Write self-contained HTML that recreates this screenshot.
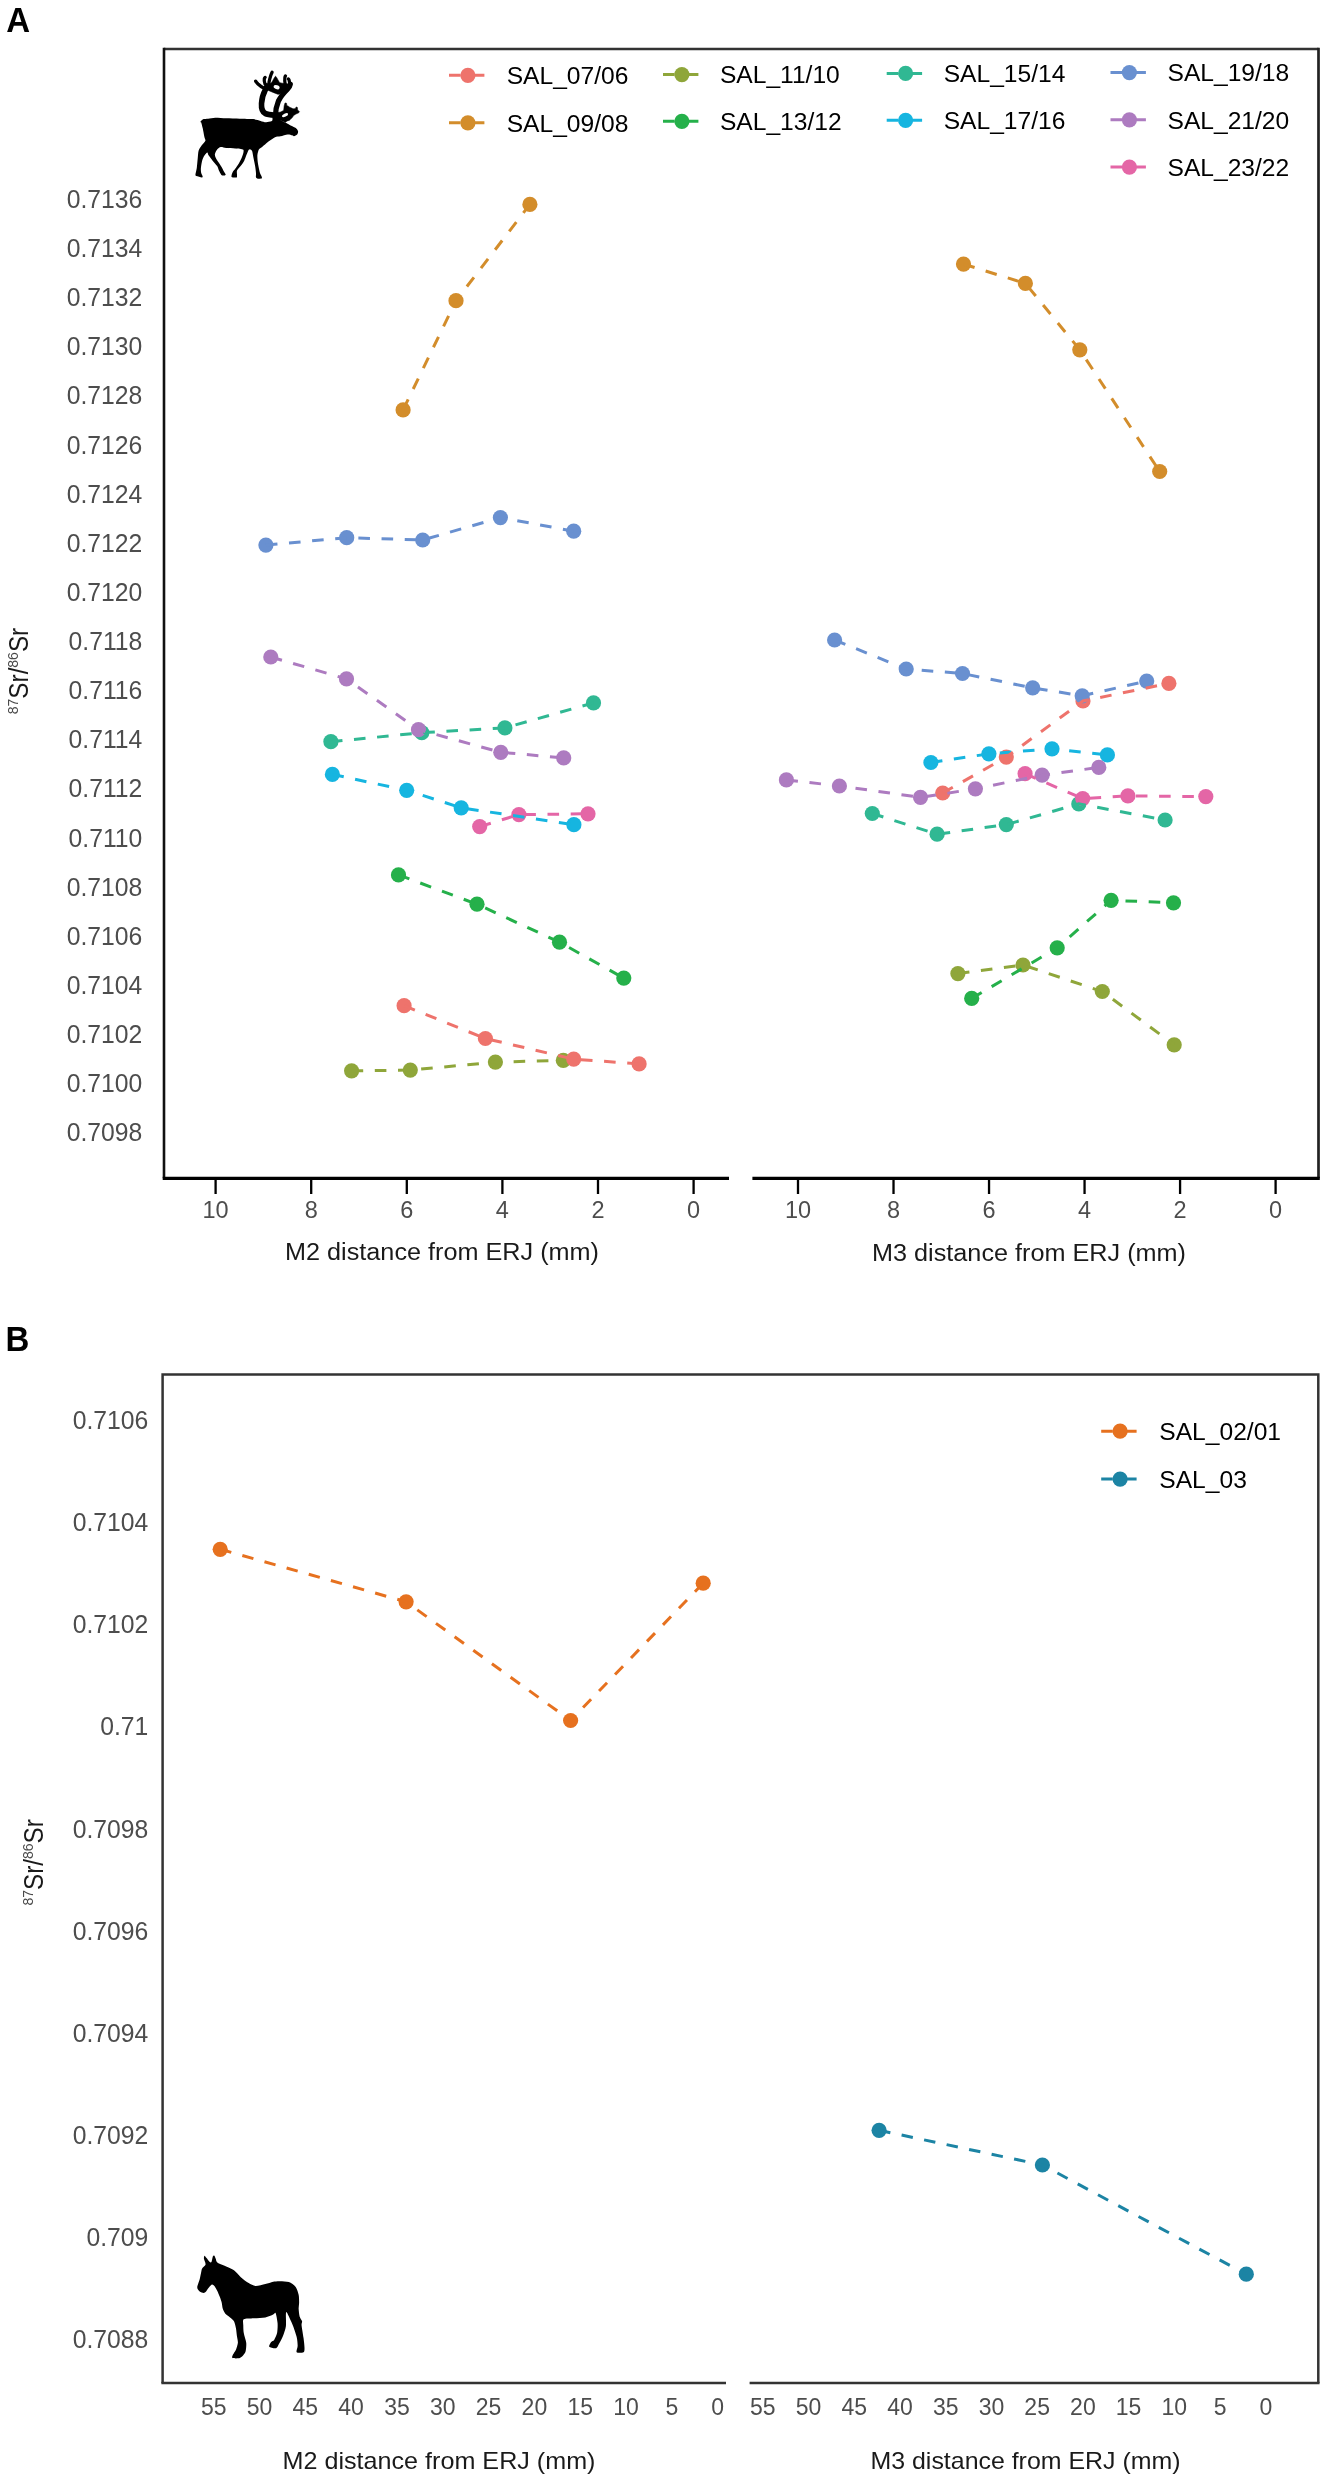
<!DOCTYPE html><html><head><meta charset="utf-8"><style>html,body{margin:0;padding:0;background:#fff;}svg{display:block;will-change:transform}</style></head><body>
<svg width="1327" height="2480" viewBox="0 0 1327 2480" font-family='"Liberation Sans", sans-serif'>
<rect width="1327" height="2480" fill="#fff"/>
<text transform="translate(6.3 31.8) scale(0.93 1)" font-size="35.5" font-weight="bold" fill="#000">A</text>
<text transform="translate(5.6 1350.9) scale(0.93 1)" font-size="35.5" font-weight="bold" fill="#000">B</text>
<path d="M164 49H1318.5" fill="none" stroke="#333" stroke-width="2.6"/>
<path d="M1318.5 47.7V1178.3" fill="none" stroke="#222" stroke-width="2.7"/>
<path d="M164 47.7V1178.3" fill="none" stroke="#111" stroke-width="2.6"/>
<path d="M162.7 1178.3H729 M752.4 1178.3H1319.8" fill="none" stroke="#000" stroke-width="3.2"/>
<path d="M693.6 1178.3V1194 M1275.6 1178.3V1194 M598 1178.3V1194 M1180.08 1178.3V1194 M502.4 1178.3V1194 M1084.56 1178.3V1194 M406.8 1178.3V1194 M989.04 1178.3V1194 M311.2 1178.3V1194 M893.52 1178.3V1194 M215.6 1178.3V1194 M798 1178.3V1194" stroke="#000" stroke-width="2.3"/>
<text x="693.6" y="1217.5" font-size="23.5" fill="#4d4d4d" text-anchor="middle">0</text>
<text x="1275.6" y="1217.5" font-size="23.5" fill="#4d4d4d" text-anchor="middle">0</text>
<text x="598" y="1217.5" font-size="23.5" fill="#4d4d4d" text-anchor="middle">2</text>
<text x="1180.08" y="1217.5" font-size="23.5" fill="#4d4d4d" text-anchor="middle">2</text>
<text x="502.4" y="1217.5" font-size="23.5" fill="#4d4d4d" text-anchor="middle">4</text>
<text x="1084.56" y="1217.5" font-size="23.5" fill="#4d4d4d" text-anchor="middle">4</text>
<text x="406.8" y="1217.5" font-size="23.5" fill="#4d4d4d" text-anchor="middle">6</text>
<text x="989.04" y="1217.5" font-size="23.5" fill="#4d4d4d" text-anchor="middle">6</text>
<text x="311.2" y="1217.5" font-size="23.5" fill="#4d4d4d" text-anchor="middle">8</text>
<text x="893.52" y="1217.5" font-size="23.5" fill="#4d4d4d" text-anchor="middle">8</text>
<text x="215.6" y="1217.5" font-size="23.5" fill="#4d4d4d" text-anchor="middle">10</text>
<text x="798" y="1217.5" font-size="23.5" fill="#4d4d4d" text-anchor="middle">10</text>
<text transform="translate(142.3 208) scale(0.97 1)" font-size="25.5" fill="#4d4d4d" text-anchor="end">0.7136</text>
<text transform="translate(142.3 257.12) scale(0.97 1)" font-size="25.5" fill="#4d4d4d" text-anchor="end">0.7134</text>
<text transform="translate(142.3 306.24) scale(0.97 1)" font-size="25.5" fill="#4d4d4d" text-anchor="end">0.7132</text>
<text transform="translate(142.3 355.36) scale(0.97 1)" font-size="25.5" fill="#4d4d4d" text-anchor="end">0.7130</text>
<text transform="translate(142.3 404.48) scale(0.97 1)" font-size="25.5" fill="#4d4d4d" text-anchor="end">0.7128</text>
<text transform="translate(142.3 453.6) scale(0.97 1)" font-size="25.5" fill="#4d4d4d" text-anchor="end">0.7126</text>
<text transform="translate(142.3 502.72) scale(0.97 1)" font-size="25.5" fill="#4d4d4d" text-anchor="end">0.7124</text>
<text transform="translate(142.3 551.84) scale(0.97 1)" font-size="25.5" fill="#4d4d4d" text-anchor="end">0.7122</text>
<text transform="translate(142.3 600.96) scale(0.97 1)" font-size="25.5" fill="#4d4d4d" text-anchor="end">0.7120</text>
<text transform="translate(142.3 650.08) scale(0.97 1)" font-size="25.5" fill="#4d4d4d" text-anchor="end">0.7118</text>
<text transform="translate(142.3 699.2) scale(0.97 1)" font-size="25.5" fill="#4d4d4d" text-anchor="end">0.7116</text>
<text transform="translate(142.3 748.32) scale(0.97 1)" font-size="25.5" fill="#4d4d4d" text-anchor="end">0.7114</text>
<text transform="translate(142.3 797.44) scale(0.97 1)" font-size="25.5" fill="#4d4d4d" text-anchor="end">0.7112</text>
<text transform="translate(142.3 846.56) scale(0.97 1)" font-size="25.5" fill="#4d4d4d" text-anchor="end">0.7110</text>
<text transform="translate(142.3 895.68) scale(0.97 1)" font-size="25.5" fill="#4d4d4d" text-anchor="end">0.7108</text>
<text transform="translate(142.3 944.8) scale(0.97 1)" font-size="25.5" fill="#4d4d4d" text-anchor="end">0.7106</text>
<text transform="translate(142.3 993.92) scale(0.97 1)" font-size="25.5" fill="#4d4d4d" text-anchor="end">0.7104</text>
<text transform="translate(142.3 1043.04) scale(0.97 1)" font-size="25.5" fill="#4d4d4d" text-anchor="end">0.7102</text>
<text transform="translate(142.3 1092.16) scale(0.97 1)" font-size="25.5" fill="#4d4d4d" text-anchor="end">0.7100</text>
<text transform="translate(142.3 1141.28) scale(0.97 1)" font-size="25.5" fill="#4d4d4d" text-anchor="end">0.7098</text>
<text x="285" y="1260.2" font-size="23" fill="#1a1a1a" textLength="314" lengthAdjust="spacingAndGlyphs">M2 distance from ERJ (mm)</text>
<text x="872" y="1261" font-size="23" fill="#1a1a1a" textLength="314" lengthAdjust="spacingAndGlyphs">M3 distance from ERJ (mm)</text>
<path d="M162.6 2383V1374.4H1318.3V2383" fill="none" stroke="#333" stroke-width="2.5"/>
<path d="M161.35 2383H726 M749.6 2383H1319.55" fill="none" stroke="#333" stroke-width="2.5"/>
<text x="717.7" y="2414.9" font-size="23" fill="#4d4d4d" text-anchor="middle">0</text>
<text x="1265.8" y="2414.9" font-size="23" fill="#4d4d4d" text-anchor="middle">0</text>
<text x="671.88" y="2414.9" font-size="23" fill="#4d4d4d" text-anchor="middle">5</text>
<text x="1220.08" y="2414.9" font-size="23" fill="#4d4d4d" text-anchor="middle">5</text>
<text x="626.06" y="2414.9" font-size="23" fill="#4d4d4d" text-anchor="middle">10</text>
<text x="1174.35" y="2414.9" font-size="23" fill="#4d4d4d" text-anchor="middle">10</text>
<text x="580.24" y="2414.9" font-size="23" fill="#4d4d4d" text-anchor="middle">15</text>
<text x="1128.62" y="2414.9" font-size="23" fill="#4d4d4d" text-anchor="middle">15</text>
<text x="534.42" y="2414.9" font-size="23" fill="#4d4d4d" text-anchor="middle">20</text>
<text x="1082.9" y="2414.9" font-size="23" fill="#4d4d4d" text-anchor="middle">20</text>
<text x="488.6" y="2414.9" font-size="23" fill="#4d4d4d" text-anchor="middle">25</text>
<text x="1037.17" y="2414.9" font-size="23" fill="#4d4d4d" text-anchor="middle">25</text>
<text x="442.78" y="2414.9" font-size="23" fill="#4d4d4d" text-anchor="middle">30</text>
<text x="991.45" y="2414.9" font-size="23" fill="#4d4d4d" text-anchor="middle">30</text>
<text x="396.96" y="2414.9" font-size="23" fill="#4d4d4d" text-anchor="middle">35</text>
<text x="945.72" y="2414.9" font-size="23" fill="#4d4d4d" text-anchor="middle">35</text>
<text x="351.14" y="2414.9" font-size="23" fill="#4d4d4d" text-anchor="middle">40</text>
<text x="900" y="2414.9" font-size="23" fill="#4d4d4d" text-anchor="middle">40</text>
<text x="305.32" y="2414.9" font-size="23" fill="#4d4d4d" text-anchor="middle">45</text>
<text x="854.27" y="2414.9" font-size="23" fill="#4d4d4d" text-anchor="middle">45</text>
<text x="259.5" y="2414.9" font-size="23" fill="#4d4d4d" text-anchor="middle">50</text>
<text x="808.55" y="2414.9" font-size="23" fill="#4d4d4d" text-anchor="middle">50</text>
<text x="213.68" y="2414.9" font-size="23" fill="#4d4d4d" text-anchor="middle">55</text>
<text x="762.83" y="2414.9" font-size="23" fill="#4d4d4d" text-anchor="middle">55</text>
<text transform="translate(148.3 1429.3) scale(0.97 1)" font-size="25.5" fill="#4d4d4d" text-anchor="end">0.7106</text>
<text transform="translate(148.3 1531.36) scale(0.97 1)" font-size="25.5" fill="#4d4d4d" text-anchor="end">0.7104</text>
<text transform="translate(148.3 1633.42) scale(0.97 1)" font-size="25.5" fill="#4d4d4d" text-anchor="end">0.7102</text>
<text transform="translate(148.3 1735.48) scale(0.97 1)" font-size="25.5" fill="#4d4d4d" text-anchor="end">0.71</text>
<text transform="translate(148.3 1837.54) scale(0.97 1)" font-size="25.5" fill="#4d4d4d" text-anchor="end">0.7098</text>
<text transform="translate(148.3 1939.6) scale(0.97 1)" font-size="25.5" fill="#4d4d4d" text-anchor="end">0.7096</text>
<text transform="translate(148.3 2041.66) scale(0.97 1)" font-size="25.5" fill="#4d4d4d" text-anchor="end">0.7094</text>
<text transform="translate(148.3 2143.72) scale(0.97 1)" font-size="25.5" fill="#4d4d4d" text-anchor="end">0.7092</text>
<text transform="translate(148.3 2245.78) scale(0.97 1)" font-size="25.5" fill="#4d4d4d" text-anchor="end">0.709</text>
<text transform="translate(148.3 2347.84) scale(0.97 1)" font-size="25.5" fill="#4d4d4d" text-anchor="end">0.7088</text>
<text x="282.5" y="2469" font-size="24" fill="#1a1a1a" textLength="313" lengthAdjust="spacingAndGlyphs">M2 distance from ERJ (mm)</text>
<text x="870.5" y="2468.8" font-size="24" fill="#1a1a1a" textLength="310" lengthAdjust="spacingAndGlyphs">M3 distance from ERJ (mm)</text>
<text transform="translate(27.6 671) rotate(-90) scale(0.9 1)" font-size="27" fill="#1a1a1a" text-anchor="middle"><tspan font-size="15.5" dy="-10" fill="#4a4a4a">87</tspan><tspan dy="10">Sr/</tspan><tspan font-size="15.5" dy="-10" fill="#4a4a4a">86</tspan><tspan dy="10">Sr</tspan></text>
<text transform="translate(42.6 1862.3) rotate(-90) scale(0.9 1)" font-size="27" fill="#1a1a1a" text-anchor="middle"><tspan font-size="15.5" dy="-10" fill="#4a4a4a">87</tspan><tspan dy="10">Sr/</tspan><tspan font-size="15.5" dy="-10" fill="#4a4a4a">86</tspan><tspan dy="10">Sr</tspan></text>
<circle cx="351.6" cy="1070.8" r="7.6" fill="#8FA63A"/><circle cx="410.3" cy="1070.1" r="7.6" fill="#8FA63A"/><circle cx="495.4" cy="1062.1" r="7.6" fill="#8FA63A"/><circle cx="563.3" cy="1060.4" r="7.6" fill="#8FA63A"/>
<circle cx="330.9" cy="741.7" r="7.6" fill="#30B893"/><circle cx="421.8" cy="732.7" r="7.6" fill="#30B893"/><circle cx="504.9" cy="727.9" r="7.6" fill="#30B893"/><circle cx="593.5" cy="702.9" r="7.6" fill="#30B893"/>
<circle cx="398.5" cy="874.9" r="7.6" fill="#25B04A"/><circle cx="477" cy="904.2" r="7.6" fill="#25B04A"/><circle cx="559.5" cy="942.2" r="7.6" fill="#25B04A"/><circle cx="623.8" cy="978.1" r="7.6" fill="#25B04A"/>
<circle cx="332.4" cy="774.4" r="7.6" fill="#16B5E0"/><circle cx="406.7" cy="790.3" r="7.6" fill="#16B5E0"/><circle cx="461.2" cy="807.8" r="7.6" fill="#16B5E0"/><circle cx="573.9" cy="824.7" r="7.6" fill="#16B5E0"/>
<circle cx="479.7" cy="826.6" r="7.6" fill="#E466A6"/><circle cx="518.9" cy="814.6" r="7.6" fill="#E466A6"/><circle cx="588" cy="813.8" r="7.6" fill="#E466A6"/>
<circle cx="270.8" cy="657" r="7.6" fill="#AD7BC0"/><circle cx="346.5" cy="678.9" r="7.6" fill="#AD7BC0"/><circle cx="418.5" cy="729.7" r="7.6" fill="#AD7BC0"/><circle cx="500.8" cy="752.3" r="7.6" fill="#AD7BC0"/><circle cx="563.7" cy="757.9" r="7.6" fill="#AD7BC0"/>
<circle cx="403.1" cy="409.9" r="7.6" fill="#D38D2B"/><circle cx="456" cy="300.7" r="7.6" fill="#D38D2B"/><circle cx="529.9" cy="204.4" r="7.6" fill="#D38D2B"/>
<circle cx="404.1" cy="1005.7" r="7.6" fill="#EE736C"/><circle cx="485.4" cy="1038.5" r="7.6" fill="#EE736C"/><circle cx="573.7" cy="1059.1" r="7.6" fill="#EE736C"/><circle cx="639.1" cy="1063.9" r="7.6" fill="#EE736C"/>
<circle cx="265.9" cy="545.1" r="7.6" fill="#6990D0"/><circle cx="346.7" cy="537.7" r="7.6" fill="#6990D0"/><circle cx="422.7" cy="540" r="7.6" fill="#6990D0"/><circle cx="500.4" cy="517.6" r="7.6" fill="#6990D0"/><circle cx="573.7" cy="531.2" r="7.6" fill="#6990D0"/>
<path d="M351.6 1070.8 L410.3 1070.1 L495.4 1062.1 L563.3 1060.4" fill="none" stroke="#8FA63A" stroke-width="3.0" stroke-dasharray="11.6 11.6"/>
<path d="M330.9 741.7 L421.8 732.7 L504.9 727.9 L593.5 702.9" fill="none" stroke="#30B893" stroke-width="3.0" stroke-dasharray="11.6 11.6"/>
<path d="M398.5 874.9 L477 904.2 L559.5 942.2 L623.8 978.1" fill="none" stroke="#25B04A" stroke-width="3.0" stroke-dasharray="11.6 11.6"/>
<path d="M332.4 774.4 L406.7 790.3 L461.2 807.8 L573.9 824.7" fill="none" stroke="#16B5E0" stroke-width="3.0" stroke-dasharray="11.6 11.6"/>
<path d="M479.7 826.6 L518.9 814.6 L588 813.8" fill="none" stroke="#E466A6" stroke-width="3.0" stroke-dasharray="11.6 11.6"/>
<path d="M270.8 657 L346.5 678.9 L418.5 729.7 L500.8 752.3 L563.7 757.9" fill="none" stroke="#AD7BC0" stroke-width="3.0" stroke-dasharray="11.6 11.6"/>
<path d="M403.1 409.9 L456 300.7 L529.9 204.4" fill="none" stroke="#D38D2B" stroke-width="3.0" stroke-dasharray="11.6 11.6"/>
<path d="M404.1 1005.7 L485.4 1038.5 L573.7 1059.1 L639.1 1063.9" fill="none" stroke="#EE736C" stroke-width="3.0" stroke-dasharray="11.6 11.6"/>
<path d="M265.9 545.1 L346.7 537.7 L422.7 540 L500.4 517.6 L573.7 531.2" fill="none" stroke="#6990D0" stroke-width="3.0" stroke-dasharray="11.6 11.6"/>
<circle cx="957.9" cy="973.6" r="7.6" fill="#8FA63A"/><circle cx="1023" cy="965" r="7.6" fill="#8FA63A"/><circle cx="1102.3" cy="991.5" r="7.6" fill="#8FA63A"/><circle cx="1174.2" cy="1044.8" r="7.6" fill="#8FA63A"/>
<circle cx="872.3" cy="813.5" r="7.6" fill="#30B893"/><circle cx="937.1" cy="834.2" r="7.6" fill="#30B893"/><circle cx="1006.3" cy="824.6" r="7.6" fill="#30B893"/><circle cx="1078.8" cy="803.9" r="7.6" fill="#30B893"/><circle cx="1165.1" cy="820" r="7.6" fill="#30B893"/>
<circle cx="971.7" cy="998.4" r="7.6" fill="#25B04A"/><circle cx="1057.2" cy="947.8" r="7.6" fill="#25B04A"/><circle cx="1111.1" cy="900.3" r="7.6" fill="#25B04A"/><circle cx="1173.5" cy="902.8" r="7.6" fill="#25B04A"/>
<circle cx="930.9" cy="762.5" r="7.6" fill="#16B5E0"/><circle cx="988.9" cy="753.8" r="7.6" fill="#16B5E0"/><circle cx="1052" cy="748.8" r="7.6" fill="#16B5E0"/><circle cx="1107.4" cy="754.9" r="7.6" fill="#16B5E0"/>
<circle cx="1025.1" cy="773.7" r="7.6" fill="#E466A6"/><circle cx="1082.7" cy="798.6" r="7.6" fill="#E466A6"/><circle cx="1127.9" cy="795.9" r="7.6" fill="#E466A6"/><circle cx="1205.8" cy="796.6" r="7.6" fill="#E466A6"/>
<circle cx="786.4" cy="779.9" r="7.6" fill="#AD7BC0"/><circle cx="839.4" cy="786" r="7.6" fill="#AD7BC0"/><circle cx="920.5" cy="797.3" r="7.6" fill="#AD7BC0"/><circle cx="975.4" cy="788.8" r="7.6" fill="#AD7BC0"/><circle cx="1042.1" cy="775.2" r="7.6" fill="#AD7BC0"/><circle cx="1098.8" cy="767.4" r="7.6" fill="#AD7BC0"/>
<circle cx="963.5" cy="264.1" r="7.6" fill="#D38D2B"/><circle cx="1025.4" cy="283.4" r="7.6" fill="#D38D2B"/><circle cx="1079.8" cy="349.8" r="7.6" fill="#D38D2B"/><circle cx="1159.7" cy="471.5" r="7.6" fill="#D38D2B"/>
<circle cx="942.7" cy="793" r="7.6" fill="#EE736C"/><circle cx="1006.3" cy="757.1" r="7.6" fill="#EE736C"/><circle cx="1083" cy="701" r="7.6" fill="#EE736C"/><circle cx="1168.9" cy="683.4" r="7.6" fill="#EE736C"/>
<circle cx="834.6" cy="640" r="7.6" fill="#6990D0"/><circle cx="906.2" cy="669" r="7.6" fill="#6990D0"/><circle cx="962.5" cy="673.5" r="7.6" fill="#6990D0"/><circle cx="1032.7" cy="687.9" r="7.6" fill="#6990D0"/><circle cx="1082.2" cy="695.8" r="7.6" fill="#6990D0"/><circle cx="1146.7" cy="681.1" r="7.6" fill="#6990D0"/>
<path d="M957.9 973.6 L1023 965 L1102.3 991.5 L1174.2 1044.8" fill="none" stroke="#8FA63A" stroke-width="3.0" stroke-dasharray="11.6 11.6"/>
<path d="M872.3 813.5 L937.1 834.2 L1006.3 824.6 L1078.8 803.9 L1165.1 820" fill="none" stroke="#30B893" stroke-width="3.0" stroke-dasharray="11.6 11.6"/>
<path d="M971.7 998.4 L1057.2 947.8 L1111.1 900.3 L1173.5 902.8" fill="none" stroke="#25B04A" stroke-width="3.0" stroke-dasharray="11.6 11.6"/>
<path d="M930.9 762.5 L988.9 753.8 L1052 748.8 L1107.4 754.9" fill="none" stroke="#16B5E0" stroke-width="3.0" stroke-dasharray="11.6 11.6"/>
<path d="M1025.1 773.7 L1082.7 798.6 L1127.9 795.9 L1205.8 796.6" fill="none" stroke="#E466A6" stroke-width="3.0" stroke-dasharray="11.6 11.6"/>
<path d="M786.4 779.9 L839.4 786 L920.5 797.3 L975.4 788.8 L1042.1 775.2 L1098.8 767.4" fill="none" stroke="#AD7BC0" stroke-width="3.0" stroke-dasharray="11.6 11.6"/>
<path d="M963.5 264.1 L1025.4 283.4 L1079.8 349.8 L1159.7 471.5" fill="none" stroke="#D38D2B" stroke-width="3.0" stroke-dasharray="11.6 11.6"/>
<path d="M942.7 793 L1006.3 757.1 L1083 701 L1168.9 683.4" fill="none" stroke="#EE736C" stroke-width="3.0" stroke-dasharray="11.6 11.6"/>
<path d="M834.6 640 L906.2 669 L962.5 673.5 L1032.7 687.9 L1082.2 695.8 L1146.7 681.1" fill="none" stroke="#6990D0" stroke-width="3.0" stroke-dasharray="11.6 11.6"/>
<circle cx="220.2" cy="1549.3" r="7.6" fill="#E6711F"/><circle cx="406.1" cy="1601.8" r="7.6" fill="#E6711F"/><circle cx="570.6" cy="1720.5" r="7.6" fill="#E6711F"/><circle cx="703.2" cy="1583.2" r="7.6" fill="#E6711F"/>
<circle cx="879.1" cy="2130.3" r="7.6" fill="#1C84A4"/><circle cx="1042.4" cy="2165" r="7.6" fill="#1C84A4"/><circle cx="1246.3" cy="2274.2" r="7.6" fill="#1C84A4"/>
<path d="M220.2 1549.3 L406.1 1601.8 L570.6 1720.5 L703.2 1583.2" fill="none" stroke="#E6711F" stroke-width="3.0" stroke-dasharray="11.5 11.5"/>
<path d="M879.1 2130.3 L1042.4 2165 L1246.3 2274.2" fill="none" stroke="#1C84A4" stroke-width="3.0" stroke-dasharray="11.5 11.5"/>
<path d="M449 75.3H460.6 M472.8 75.3H484.4" stroke="#EE736C" stroke-width="3.0"/><circle cx="467.9" cy="75.3" r="7.6" fill="#EE736C"/>
<text x="506.7" y="84.1" font-size="24.6" fill="#000">SAL_07/06</text>
<path d="M449 122.8H460.6 M472.8 122.8H484.4" stroke="#D38D2B" stroke-width="3.0"/><circle cx="467.9" cy="122.8" r="7.6" fill="#D38D2B"/>
<text x="506.7" y="131.6" font-size="24.6" fill="#000">SAL_09/08</text>
<path d="M663 74.6H674.6 M686.8 74.6H698.4" stroke="#8FA63A" stroke-width="3.0"/><circle cx="681.9" cy="74.6" r="7.6" fill="#8FA63A"/>
<text x="719.9" y="83.4" font-size="24.6" fill="#000">SAL_11/10</text>
<path d="M663 121.3H674.6 M686.8 121.3H698.4" stroke="#25B04A" stroke-width="3.0"/><circle cx="681.9" cy="121.3" r="7.6" fill="#25B04A"/>
<text x="719.9" y="130.1" font-size="24.6" fill="#000">SAL_13/12</text>
<path d="M886.7 73.4H898.3 M910.5 73.4H922.1" stroke="#30B893" stroke-width="3.0"/><circle cx="905.6" cy="73.4" r="7.6" fill="#30B893"/>
<text x="943.7" y="82.2" font-size="24.6" fill="#000">SAL_15/14</text>
<path d="M886.7 120.3H898.3 M910.5 120.3H922.1" stroke="#16B5E0" stroke-width="3.0"/><circle cx="905.6" cy="120.3" r="7.6" fill="#16B5E0"/>
<text x="943.7" y="129.1" font-size="24.6" fill="#000">SAL_17/16</text>
<path d="M1110.5 72.6H1122.1 M1134.3 72.6H1145.9" stroke="#6990D0" stroke-width="3.0"/><circle cx="1129.4" cy="72.6" r="7.6" fill="#6990D0"/>
<text x="1167.5" y="81.4" font-size="24.6" fill="#000">SAL_19/18</text>
<path d="M1110.5 119.8H1122.1 M1134.3 119.8H1145.9" stroke="#AD7BC0" stroke-width="3.0"/><circle cx="1129.4" cy="119.8" r="7.6" fill="#AD7BC0"/>
<text x="1167.5" y="128.6" font-size="24.6" fill="#000">SAL_21/20</text>
<path d="M1110.5 167.1H1122.1 M1134.3 167.1H1145.9" stroke="#E466A6" stroke-width="3.0"/><circle cx="1129.4" cy="167.1" r="7.6" fill="#E466A6"/>
<text x="1167.5" y="175.9" font-size="24.6" fill="#000">SAL_23/22</text>
<path d="M1101.2 1431.2H1112.8 M1125 1431.2H1136.6" stroke="#E6711F" stroke-width="3.0"/><circle cx="1120.1" cy="1431.2" r="7.6" fill="#E6711F"/>
<text x="1159.3" y="1440" font-size="24.6" fill="#000">SAL_02/01</text>
<path d="M1101.2 1479.1H1112.8 M1125 1479.1H1136.6" stroke="#1C84A4" stroke-width="3.0"/><circle cx="1120.1" cy="1479.1" r="7.6" fill="#1C84A4"/>
<text x="1159.3" y="1487.9" font-size="24.6" fill="#000">SAL_03</text>
<g transform="translate(190 65) scale(0.090432)" fill="#000">
<path d="M115 628 C118.3 622.7 138.7 602.7 150 598 C161.3 593.3 182.7 595 200 593 C217.3 591 253.3 583.4 280 583 C306.7 582.6 364 588.7 400 590 C436 591.3 510 591.9 550 593 C590 594.1 669.3 594.7 700 598 C730.7 601.3 761.3 613.3 780 618 C798.7 622.7 824 632.3 840 633 C856 633.7 888 627.7 900 623 C912 618.3 916.7 599.7 930 598 C943.3 596.3 982.7 604.7 1000 610 C1017.3 615.3 1044 629.6 1060 638 C1076 646.4 1105.3 665 1120 673 C1134.7 681 1160 690 1170 698 C1180 706 1193 723.7 1195 733 C1197 742.3 1191 760.7 1185 768 C1179 775.3 1157.3 786.7 1150 788 C1142.7 789.3 1139.3 780.7 1130 778 C1120.7 775.3 1097.3 766.7 1080 768 C1062.7 769.3 1018.7 784 1000 788 C981.3 792 956 791.3 940 798 C924 804.7 894.7 827.3 880 838 C865.3 848.7 843.3 867.3 830 878 C816.7 888.7 789.3 910 780 918 C770.7 926 764.7 927.3 760 938 C755.3 948.7 746.3 979.3 745 998 C743.7 1016.7 747.3 1056.7 750 1078 C752.7 1099.3 761.7 1142 765 1158 C768.3 1174 771.7 1188.7 775 1198 C778.3 1207.3 787.3 1220.7 790 1228 C792.7 1235.3 799 1249 795 1253 C791 1257 768.7 1259.3 760 1258 C751.3 1256.7 734 1251 730 1243 C726 1235 731.3 1214.7 730 1198 C728.7 1181.3 724 1142 720 1118 C716 1094 704.7 1040.7 700 1018 C695.3 995.3 691.7 958.7 685 948 C678.3 937.3 661.3 923.3 650 938 C638.7 952.7 612 1034 600 1058 C588 1082 570.7 1103.3 560 1118 C549.3 1132.7 525.3 1154.7 520 1168 C514.7 1181.3 520.7 1208 520 1218 C519.3 1228 523 1240.3 515 1243 C507 1245.7 466 1245.3 460 1238 C454 1230.7 464.7 1200 470 1188 C475.3 1176 490.7 1161.3 500 1148 C509.3 1134.7 530 1105.3 540 1088 C550 1070.7 568.3 1038 575 1018 C581.7 998 600 950.7 590 938 C580 925.3 525.3 925.7 500 923 C474.7 920.3 421.3 920 400 918 C378.7 916 353.3 905.7 340 908 C326.7 910.3 308.7 924.3 300 935 C291.3 945.7 276.3 974.3 275 988 C273.7 1001.7 282.7 1023.3 290 1038 C297.3 1052.7 321.3 1084.7 330 1098 C338.7 1111.3 349 1127.3 355 1138 C361 1148.7 369.7 1168 375 1178 C380.3 1188 395.7 1207 395 1213 C394.3 1219 376.7 1223 370 1223 C363.3 1223 351.7 1220.3 345 1213 C338.3 1205.7 326 1180.7 320 1168 C314 1155.3 309.3 1132.7 300 1118 C290.7 1103.3 262.7 1074 250 1058 C237.3 1042 213 1010 205 998 C197 986 197.3 965.3 190 968 C182.7 970.7 158 1003.3 150 1018 C142 1032.7 134 1060.7 130 1078 C126 1095.3 120.7 1132 120 1148 C119.3 1164 122.3 1186.7 125 1198 C127.7 1209.3 139.3 1227 140 1233 C140.7 1239 139.3 1243.7 130 1243 C120.7 1242.3 79.3 1232 70 1228 C60.7 1224 59.3 1225 60 1213 C60.7 1201 71.7 1161.3 75 1138 C78.3 1114.7 82.3 1063.3 85 1038 C87.7 1012.7 89 968 95 948 C101 928 120 902.7 130 888 C140 873.3 166 850 170 838 C174 826 164 816.7 160 798 C156 779.3 144.7 719.3 140 698 C135.3 676.7 128.3 647.3 125 638 C121.7 628.7 111.7 633.3 115 628Z"/>
<path d="M950 556 C910 553 862 551 830 535 C798 517 788 472 791 425 C794 380 803 330 828 285 C838 265 848 245 854 232" fill="none" stroke="#000" stroke-width="62" stroke-linecap="round" stroke-linejoin="round"/>
<path d="M945 560 C945 500 955 455 978 398 C1003 348 1043 303 1078 268 C1098 248 1106 233 1109 215" fill="none" stroke="#000" stroke-width="58" stroke-linecap="round" stroke-linejoin="round"/>
<path d="M828 262 C800 248 775 232 752 210 C740 198 732 188 726 178" fill="none" stroke="#000" stroke-width="36" stroke-linecap="round" stroke-linejoin="round"/>
<path d="M830 212 C822 190 819 165 822 150 C824 142 828 139 831 137" fill="none" stroke="#000" stroke-width="36" stroke-linecap="round" stroke-linejoin="round"/>
<path d="M873 195 C878 165 885 140 892 118 C897 102 903 90 908 80" fill="none" stroke="#000" stroke-width="36" stroke-linecap="round" stroke-linejoin="round"/>
<path d="M1053 212 C1048 185 1046 160 1049 140 C1051 130 1054 124 1056 120" fill="none" stroke="#000" stroke-width="36" stroke-linecap="round" stroke-linejoin="round"/>
<path d="M1103 225 C1103 200 1100 180 1096 168 C1093 160 1090 156 1088 155" fill="none" stroke="#000" stroke-width="36" stroke-linecap="round" stroke-linejoin="round"/>
<path d="M838 218 C842.8 212.2 891 203.8 900 196 C909 188.2 938.3 124.2 946 124 C953.7 123.8 983.3 187.3 992 194 C1000.7 200.7 1041 202.5 1050 204 C1059 205.5 1094.3 209.2 1100 212 C1105.7 214.8 1119.2 231.9 1118 238 C1116.8 244.1 1094 278.8 1085 285 C1076 291.2 1019.2 308.8 1010 312 C1000.8 315.2 986.4 326.3 975 324 C963.6 321.7 884.1 288.8 873 284 C861.9 279.2 844.9 271.5 842 266 C839.1 260.5 833.2 223.8 838 218Z" stroke="#000" stroke-width="6" stroke-linejoin="round"/>
<path d="M968 530 C970.6 523.3 995.4 522.5 1001 520 C1006.6 517.5 1031.7 505.5 1035 500 C1038.3 494.5 1039.7 460.7 1041 454 C1042.3 447.3 1048.8 422.5 1051 420 C1053.2 417.5 1066.3 421.8 1068 424 C1069.7 426.2 1069.6 444.5 1071 447 C1072.4 449.5 1082.8 452.6 1085 454 C1087.2 455.4 1095.2 462.3 1098 464 C1100.8 465.7 1114.7 472.3 1118 474 C1121.3 475.7 1134.4 483.2 1138 484 C1141.6 484.8 1157.9 485.7 1161 484 C1164.1 482.3 1172.8 465.2 1175 464 C1177.2 462.8 1186.7 467.2 1188 470 C1189.3 472.8 1189.1 493.1 1191 497 C1192.9 500.9 1210.4 514.2 1211 517 C1211.6 519.8 1201.6 527.8 1198 530 C1194.4 532.2 1172.4 541.5 1168 544 C1163.6 546.5 1148.6 556.4 1145 560 C1141.4 563.6 1128.7 582.8 1125 587 C1121.3 591.2 1105.5 607.2 1101 610 C1096.5 612.8 1074.6 618 1071 620 C1067.4 622 1063.9 634.7 1058 634 C1052.1 633.3 1007.3 614.8 1000 612 C992.7 609.2 972.7 606.8 970 600 C967.3 593.2 965.4 536.7 968 530Z" stroke="#000" stroke-width="6" stroke-linejoin="round"/>
<path d="M925 540 C930 534.2 970 525 975 530 C980 535 982.9 592.7 985 600 C987.1 607.3 1004.6 615.7 1000 618 C995.4 620.3 937.1 629.5 930 628 C922.9 626.5 915.4 607.3 915 600 C914.6 592.7 920 545.8 925 540Z" stroke="#000" stroke-width="6" stroke-linejoin="round"/>
<ellipse cx="958" cy="245" rx="34" ry="22" transform="rotate(20 958 245)" fill="#fff"/>
<ellipse cx="1051" cy="554" rx="37" ry="17" transform="rotate(-25 1051 554)" fill="#fff"/>
</g>
<g transform="translate(185 2240) scale(0.097962)" fill="#000">
<path d="M125 485 C125 501.7 141.3 517.7 150 525 C158.7 532.3 181.3 540 190 540 C198.7 540 208.3 531.7 215 525 C221.7 518.3 232 499.3 240 490 C248 480.7 267 457.7 275 455 C283 452.3 292.7 461.3 300 470 C307.3 478.7 322.7 505.3 330 520 C337.3 534.7 349 564 355 580 C361 596 371 624 375 640 C379 656 380.3 685.3 385 700 C389.7 714.7 400 738 410 750 C420 762 448 779.3 460 790 C472 800.7 492 815.3 500 830 C508 844.7 516 880 520 900 C524 920 527.3 960 530 980 C532.7 1000 541.3 1031.3 540 1050 C538.7 1068.7 526.7 1104 520 1120 C513.3 1136 494.7 1158.7 490 1170 C485.3 1181.3 475.7 1200.3 485 1205 C494.3 1209.7 544.7 1209.7 560 1205 C575.3 1200.3 592 1180 600 1170 C608 1160 616.7 1146 620 1130 C623.3 1114 627.7 1074 625 1050 C622.3 1026 604 974 600 950 C596 926 595 888.7 595 870 C595 851.3 586 819.3 600 810 C614 800.7 670.7 802.7 700 800 C729.3 797.3 793.3 795.3 820 790 C846.7 784.7 886 766 900 760 C914 754 919 733 925 745 C931 757 943 822.7 945 850 C947 877.3 944.7 927.3 940 950 C935.3 972.7 918 1008 910 1020 C902 1032 886.7 1030.7 880 1040 C873.3 1049.3 853.3 1081.3 860 1090 C866.7 1098.7 916.7 1109 930 1105 C943.3 1101 950.7 1076.7 960 1060 C969.3 1043.3 990.7 1004 1000 980 C1009.3 956 1026 909.3 1030 880 C1034 850.7 1028.7 778.7 1030 760 C1031.3 741.3 1030.7 725.3 1040 740 C1049.3 754.7 1086.7 836.7 1100 870 C1113.3 903.3 1133.3 962 1140 990 C1146.7 1018 1150 1059.3 1150 1080 C1150 1100.7 1132 1136.3 1140 1145 C1148 1153.7 1199.3 1151 1210 1145 C1220.7 1139 1220 1119.3 1220 1100 C1220 1080.7 1214 1030.7 1210 1000 C1206 969.3 1192 892.7 1190 870 C1188 847.3 1197.7 842 1195 830 C1192.3 818 1174.7 797.3 1170 780 C1165.3 762.7 1160.7 718.7 1160 700 C1159.3 681.3 1165 658.7 1165 640 C1165 621.3 1164.7 581.3 1160 560 C1155.3 538.7 1143.3 497.3 1130 480 C1116.7 462.7 1081.3 438 1060 430 C1038.7 422 991.3 420.7 970 420 C948.7 419.3 920 421 900 425 C880 429 844 444 820 450 C796 456 742.7 471.3 720 470 C697.3 468.7 670 452 650 440 C630 428 590 397.3 570 380 C550 362.7 520 324.7 500 310 C480 295.3 442.7 280.7 420 270 C397.3 259.3 344 240 330 230 C316 220 319 204.3 315 195 C311 185.7 304 164 300 160 C296 156 289 156.3 285 165 C281 173.7 274.7 217.4 270 225 C265.3 232.6 256.7 227.3 250 222 C243.3 216.7 226.7 193.3 220 185 C213.3 176.7 203.6 159.3 200 160 C196.4 160.7 191.7 178 193 190 C194.3 202 212.4 236.7 210 250 C207.6 263.3 181 279.3 175 290 C169 300.7 168.3 315.3 165 330 C161.7 344.7 155.3 379.3 150 400 C144.7 420.7 125 468.3 125 485Z"/>
</g>
</svg></body></html>
